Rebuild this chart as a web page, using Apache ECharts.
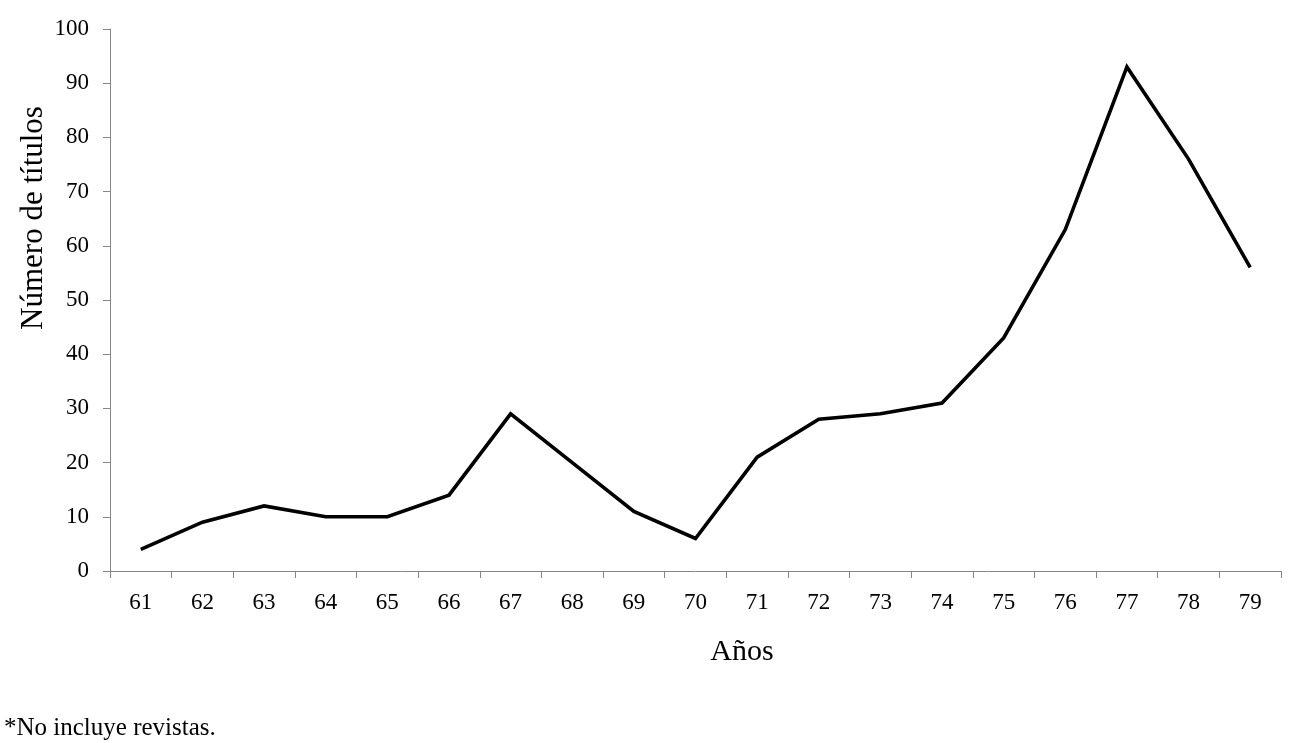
<!DOCTYPE html>
<html>
<head>
<meta charset="utf-8">
<script src="https://cdn.jsdelivr.net/npm/echarts@6/dist/echarts.min.js"></script>
<style>
html,body{margin:0;padding:0;background:#fff;}
#chart{width:1305px;height:743px;}
</style>
</head>
<body>
<div id="chart"></div>
<script>
var categories = ['61','62','63','64','65','66','67','68','69','70','71','72','73','74','75','76','77','78','79'];
var titulos = [4, 9, 12, 10, 10, 14, 29, 20, 11, 6, 21, 28, 29, 31, 43, 63, 93, 76, 56];
var yTitle = 'Número de títulos';
var xTitle = 'Años';
var footnote = '*No incluye revistas.';

var FONT = '"Liberation Serif", "Times New Roman", serif';
var AXIS = '#868686';

var chart = echarts.init(document.getElementById('chart'), null, {renderer: 'canvas'});
chart.setOption({
  backgroundColor: '#ffffff',
  animation: false,
  grid: {left: 110, right: 24, top: 29, bottom: 172, containLabel: false},
  xAxis: {
    type: 'category',
    data: categories,
    boundaryGap: true,
    axisLine: {lineStyle: {color: AXIS, width: 1}},
    axisTick: {show: true, length: 7, alignWithLabel: false, lineStyle: {color: AXIS}},
    axisLabel: {color: '#000', fontFamily: FONT, fontSize: 23, margin: 20, interval: 0},
    splitLine: {show: false}
  },
  yAxis: {
    type: 'value',
    min: 0, max: 100, interval: 10,
    axisLine: {show: true, lineStyle: {color: AXIS, width: 1}},
    axisTick: {show: true, length: 7, lineStyle: {color: AXIS}},
    axisLabel: {color: '#000', fontFamily: FONT, fontSize: 23, margin: 21},
    splitLine: {show: false}
  },
  series: [{
    type: 'line',
    data: titulos,
    symbol: 'none',
    lineStyle: {color: '#000', width: 3.6, join: 'miter'},
    itemStyle: {color: '#000'}
  }],
  graphic: [
    {type: 'text', x: 34, y: 218, rotation: Math.PI / 2,
     style: {text: yTitle, fill: '#000', font: '31px ' + FONT, align: 'center', verticalAlign: 'middle'}},
    {type: 'text', x: 742, y: 652,
     style: {text: xTitle, fill: '#000', font: '30px ' + FONT, align: 'center', verticalAlign: 'middle'}},
    {type: 'text', x: 4, y: 728,
     style: {text: footnote, fill: '#000', font: '25px ' + FONT, align: 'left', verticalAlign: 'middle'}}
  ]
});
</script>
</body>
</html>
